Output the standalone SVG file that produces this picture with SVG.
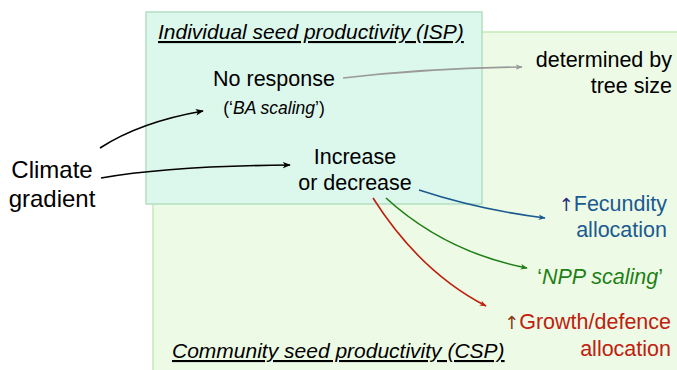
<svg xmlns="http://www.w3.org/2000/svg" width="677" height="370" viewBox="0 0 677 370">
<style>
text{font-family:"Helvetica Neue","Liberation Sans",Arial,sans-serif;fill:#000}
.t{font-size:21.5px}
.h{font-size:21px;font-style:italic;text-decoration:underline}
.c{fill:none;stroke-width:1.6}
.up{font-family:"DejaVu Sans",sans-serif;font-size:18px}
</style>
<defs>
<marker id="ak" viewBox="0 0 10 10" refX="9" refY="5" markerWidth="8" markerHeight="8" orient="auto" markerUnits="userSpaceOnUse"><path d="M0,1 L10,5 L0,9 L2.5,5 Z" fill="#000"/></marker>
<marker id="ag" viewBox="0 0 10 10" refX="9" refY="5" markerWidth="7" markerHeight="7" orient="auto" markerUnits="userSpaceOnUse"><path d="M0,1 L10,5 L0,9 L2.5,5 Z" fill="#9a9a9a"/></marker>
<marker id="ab" viewBox="0 0 10 10" refX="9" refY="5" markerWidth="7" markerHeight="7" orient="auto" markerUnits="userSpaceOnUse"><path d="M0,1 L10,5 L0,9 L2.5,5 Z" fill="#1b5a90"/></marker>
<marker id="agr" viewBox="0 0 10 10" refX="9" refY="5" markerWidth="7" markerHeight="7" orient="auto" markerUnits="userSpaceOnUse"><path d="M0,1 L10,5 L0,9 L2.5,5 Z" fill="#1f7f16"/></marker>
<marker id="ar" viewBox="0 0 10 10" refX="9" refY="5" markerWidth="7" markerHeight="7" orient="auto" markerUnits="userSpaceOnUse"><path d="M0,1 L10,5 L0,9 L2.5,5 Z" fill="#c0200e"/></marker>
</defs>
<rect width="677" height="370" fill="#fff"/>
<g id="csp">
<rect x="153" y="32" width="530" height="345" fill="#edfbe6" stroke="#c4ecb6" stroke-width="1.5"/>
<text class="h" x="172" y="358">Community seed productivity (CSP)</text>
</g>
<g id="isp">
<rect x="146" y="12" width="336" height="192" fill="#dcf7ec" stroke="#b3dfc2" stroke-width="1.5"/>
<text class="h" x="158" y="39">Individual seed productivity (ISP)</text>
</g>
<g id="no-response">
<text class="t" x="274" y="86" text-anchor="middle">No response</text>
<text x="274" y="114" text-anchor="middle" font-size="17.5">(‘<tspan font-style="italic">BA scaling</tspan>’)</text>
</g>
<g id="increase">
<text class="t" x="355" y="164" text-anchor="middle">Increase</text>
<text class="t" x="355" y="190" text-anchor="middle">or decrease</text>
</g>
<g id="climate">
<text x="52" y="178" text-anchor="middle" font-size="24">Climate</text>
<text x="52" y="207" text-anchor="middle" font-size="24">gradient</text>
</g>
<g id="tree-size">
<text class="t" x="672" y="67" text-anchor="end">determined by</text>
<text class="t" x="672" y="93" text-anchor="end">tree size</text>
</g>
<g id="fecundity">
<text class="t" x="667" y="211" text-anchor="end" style="fill:#1b5a90"><tspan class="up" style="fill:#2a2e7a">↑</tspan>Fecundity</text>
<text class="t" x="667" y="237" text-anchor="end" style="fill:#1b5a90">allocation</text>
</g>
<g id="npp">
<text class="t" x="663" y="284" text-anchor="end" style="fill:#1f7f16">‘<tspan font-style="italic">NPP scaling</tspan>’</text>
</g>
<g id="growth">
<text class="t" x="671" y="329" text-anchor="end" style="fill:#c0200e"><tspan class="up" style="fill:#8a3a10">↑</tspan>Growth/defence</text>
<text class="t" x="671" y="356" text-anchor="end" style="fill:#c0200e">allocation</text>
</g>
<g id="connectors">
<path class="c" d="M100,148 Q140,122 203,111" stroke="#000" marker-end="url(#ak)"/>
<path class="c" d="M101,178 Q170,166 290,165" stroke="#000" marker-end="url(#ak)"/>
<path class="c" d="M343,78 Q430,68 522,67" stroke="#9a9a9a" marker-end="url(#ag)"/>
<path class="c" d="M419,190 Q480,210 545,218" stroke="#1b5a90" marker-end="url(#ab)"/>
<path class="c" d="M386,198 Q445,252 527,268" stroke="#1f7f16" marker-end="url(#agr)"/>
<path class="c" d="M373,198 Q420,272 486,306" stroke="#c0200e" marker-end="url(#ar)"/>
</g>
</svg>
